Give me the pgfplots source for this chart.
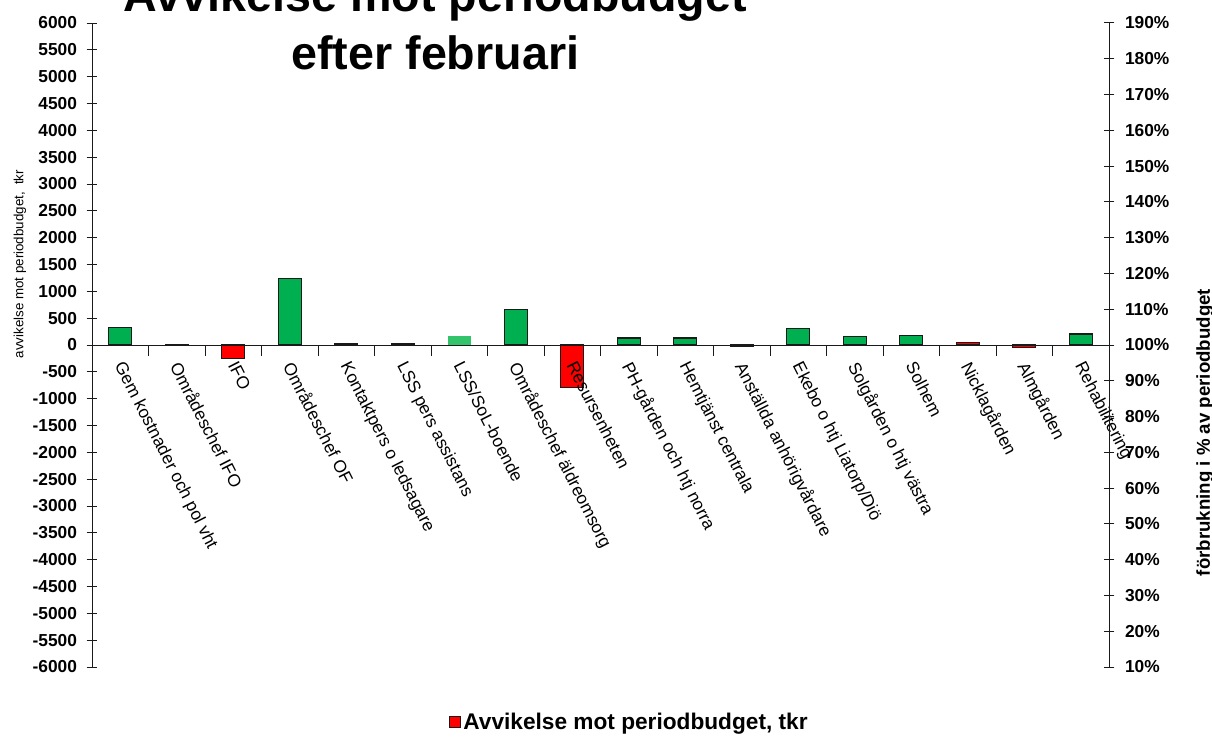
\documentclass[border=0pt]{standalone}
\usepackage{pgfplots}
\pgfplotsset{compat=1.18}
\usepackage{fontspec}
\setmainfont{Liberation Sans}
\definecolor{bargreen}{HTML}{00B050}
\definecolor{lightgreen}{HTML}{33C46B}
\definecolor{barred}{HTML}{FF0000}
\definecolor{edge}{HTML}{1A1A1A}
\pgfplotsset{sqleg/.style={legend image code/.code={\draw[##1] (0pt,-4.1pt) rectangle (8.25pt,4.1pt);}}}
\begin{document}
\begin{tikzpicture}
\useasboundingbox (0,0) rectangle (909pt,552pt);
\clip (0,0) rectangle (909pt,552pt);
\begin{axis}[
  at={(69pt,51.75pt)}, anchor=south west, scale only axis,
  width=762.75pt, height=483pt,
  xmin=-0.5, xmax=17.5, ymin=-6000, ymax=6000,
  axis x line*=middle, axis y line*=left,
  axis on top,
  axis line style={line width=0.75pt, color=edge},
  xtick={0,...,17},
  xticklabels={Gem kostnader och pol vht, Områdeschef IFO, IFO, Områdeschef OF, Kontaktpers o ledsagare, LSS pers assistans, LSS/SoL-boende, Områdeschef äldreomsorg, Resursenheten, PH-gården och htj norra, Hemtjänst centrala, Anställda anhörigvårdare, Ekebo o htj Liatorp/Diö, Solgården o htj västra, Solhem, Nicklagården, Almgården, Rehabilitering},
  major x tick style={draw=none},
  minor xtick={0.5,1.5,...,16.5},
  ytick={-6000,-5500,...,6000},
  tick align=center,
  major tick length=8pt, minor tick length=8pt,
  every tick/.style={line width=0.75pt, edge},
  yticklabel style={font=\fontsize{13}{15}\selectfont\bfseries, xshift=-3.75pt},
  /pgf/number format/assume math mode=true,
  /pgf/number format/1000 sep={},
  xticklabel style={xshift=4pt, yshift=-3pt, rotate=-63, anchor=north west, font=\fontsize{13}{15}\selectfont, inner sep=0pt},
  ybar, bar width=17.25pt, bar shift=0pt,
  clip=false,
  legend style={at={(0.5285,-0.0854)}, anchor=center, draw=none, fill=none,
    font=\fontsize{17}{20}\selectfont\bfseries, inner sep=0pt,
    nodes={inner sep=2pt}},
]
\addplot[fill=bargreen, draw=edge, line width=0.8pt, forget plot] coordinates {
 (0,320) (1,15) (3,1240) (4,30) (5,30) (7,655) (9,130) (10,130) (12,300) (13,155) (14,185) (17,205)};
\addplot[fill=lightgreen, draw=none, forget plot] coordinates {(6,160)};
\addplot[fill=barred, draw=edge, line width=0.8pt, sqleg] coordinates {
 (2,-260) (8,-785) (11,-30) (15,55) (16,-45)};
\addlegendentry{Avvikelse mot periodbudget, tkr}
\end{axis}
\begin{axis}[
  at={(69pt,51.75pt)}, anchor=south west, scale only axis,
  width=762.75pt, height=483pt,
  xmin=-0.5, xmax=17.5, ymin=10, ymax=190,
  axis x line=none, axis y line*=right,
  axis line style={line width=0.75pt, color=edge},
  ytick={10,20,...,190},
  yticklabel={\pgfmathprintnumber{\tick}\%},
  tick align=center, major tick length=8pt,
  every tick/.style={line width=0.75pt, edge},
  yticklabel style={font=\fontsize{13}{15}\selectfont\bfseries, anchor=west, xshift=4.5pt},
  /pgf/number format/assume math mode=true,
]
\addplot[draw=none] coordinates {(0,100)};
\end{axis}
\node[font=\fontsize{35}{40}\selectfont\bfseries, anchor=base] at (326.5pt,543pt) {Avvikelse mot periodbudget};
\node[font=\fontsize{35}{40}\selectfont\bfseries, anchor=base] at (326.5pt,499.5pt) {efter februari};
\node[font=\fontsize{10}{12}\selectfont, rotate=90] at (15pt,354pt) {avvikelse mot periodbudget,\ \ tkr};
\node[font=\fontsize{14}{16}\selectfont\bfseries, rotate=90] at (903.75pt,227.6pt) {förbrukning i \% av periodbudget};
\end{tikzpicture}
\end{document}
